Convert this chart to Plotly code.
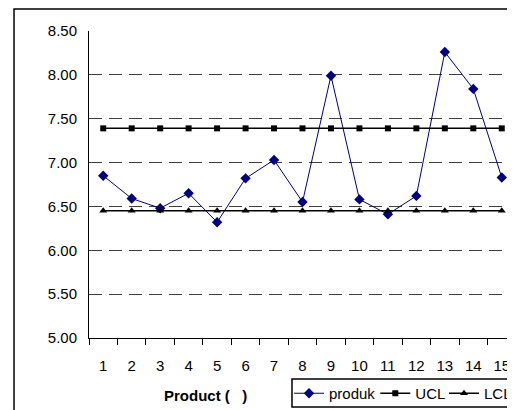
import plotly.graph_objects as go

categories = [str(i) for i in range(1, 16)]
produk = [6.85, 6.59, 6.48, 6.65, 6.32, 6.82, 7.03, 6.55, 7.99, 6.58, 6.41, 6.62, 8.26, 7.84, 6.83]
ucl = [7.39] * 15
lcl = [6.45] * 15
y_ticks = [5.0, 5.5, 6.0, 6.5, 7.0, 7.5, 8.0, 8.5]

font = "Liberation Sans, Arial, sans-serif"

fig = go.Figure()
fig.add_trace(go.Scatter(x=categories, y=produk, name="produk", mode="lines+markers",
                         line=dict(color="#000080", width=1), legend="legend",
                         marker=dict(symbol="diamond", size=8, color="#000080")))
fig.add_trace(go.Scatter(x=categories, y=ucl, name="UCL", mode="lines+markers",
                         line=dict(color="#000000", width=1.5), legend="legend2",
                         marker=dict(symbol="square", size=6, color="#000000")))
fig.add_trace(go.Scatter(x=categories, y=lcl, name="LCL", mode="lines+markers",
                         line=dict(color="#000000", width=1.5), legend="legend3",
                         marker=dict(symbol="triangle-up", size=7, color="#000000")))

leg_common = dict(orientation="h", y=-0.127, xanchor="left", yanchor="top",
                  borderwidth=0, bgcolor="rgba(0,0,0,0)",
                  font=dict(family=font, size=15, color="black"), itemwidth=30)

fig.update_layout(
    width=515, height=410,
    margin=dict(l=81, r=7, t=23, b=80, autoexpand=False),
    paper_bgcolor="white", plot_bgcolor="white",
    font=dict(family=font, size=15, color="black"),
    showlegend=True,
    legend=dict(x=0.4684, **leg_common),
    legend2=dict(x=0.6705, **leg_common),
    legend3=dict(x=0.8314, **leg_common),
    xaxis=dict(type="category", range=[-0.5, 14.5], showline=True, linecolor="black",
               linewidth=1, ticks="outside", tickson="boundaries", ticklen=6,
               tickcolor="black", showgrid=False, automargin=False,
               tickfont=dict(family=font, size=15, color="black"),
               ticklabelstandoff=14),
    yaxis=dict(range=[5, 8.5], tickvals=y_ticks, tickformat=".2f", showline=True,
               linecolor="black", linewidth=1, ticks="", showgrid=True,
               gridcolor="#404040", griddash="13px,7px", gridwidth=1, zeroline=False,
               tickfont=dict(family=font, size=15, color="black"),
               ticklabelstandoff=8, automargin=False),
    annotations=[
        dict(text="<b>Product (\u00a0\u00a0\u00a0)</b>", xref="paper", yref="paper",
             x=0.274, y=-0.1857, xanchor="center", yanchor="middle", showarrow=False,
             font=dict(family=font, size=15, color="black")),
    ],
    shapes=[
        dict(type="rect", xref="paper", yref="paper", x0=-0.1756, x1=1.03, y0=-0.3, y1=1.0717,
             line=dict(color="black", width=1.5), fillcolor="rgba(0,0,0,0)", layer="above"),
        dict(type="rect", xref="paper", yref="paper", x0=0.4754, x1=1.03, y0=-0.2248, y1=-0.1336,
             line=dict(color="black", width=1.5), fillcolor="white", layer="above"),
    ],
)

fig.write_html("out.html")
